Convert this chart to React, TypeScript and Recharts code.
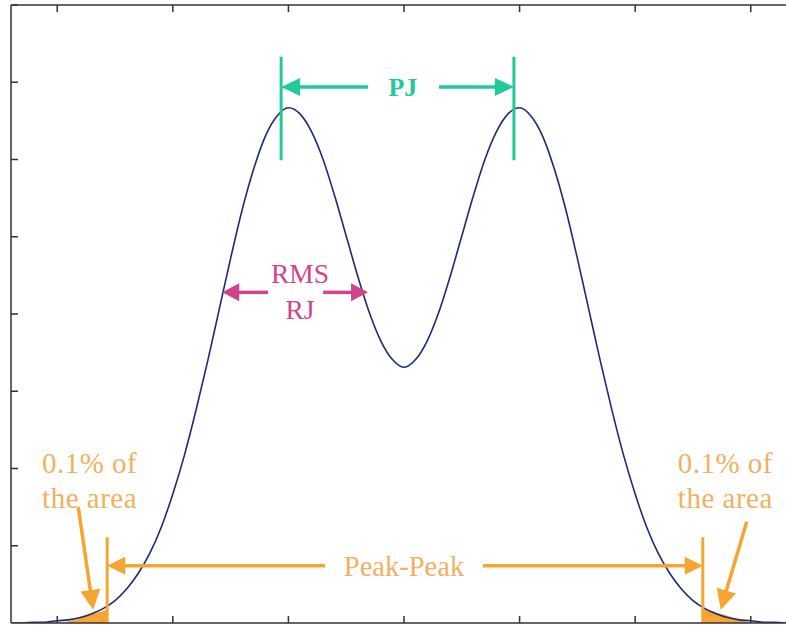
import React from 'react';
import {
  ComposedChart,
  Line,
  Area,
  XAxis,
  YAxis,
  ReferenceLine,
  ReferenceDot,
} from 'recharts';

// jitter axis positions (ticks)
const xTicks = [-3, -2, -1, 0, 1, 2, 3];
const yTicks = [0, 1, 2, 3, 4, 5, 6, 7, 8];

// bimodal jitter histogram
const xValues = [
  -3.4, -3.3, -3.2, -3.1, -3.0, -2.9, -2.8, -2.7, -2.6, -2.5, -2.4, -2.3, -2.2, -2.1, -2.0,
  -1.9, -1.8, -1.7, -1.6, -1.5, -1.4, -1.3, -1.2, -1.1, -1.0, -0.9, -0.8, -0.7, -0.6, -0.5,
  -0.4, -0.3, -0.2, -0.1, 0, 0.1, 0.2, 0.3, 0.4, 0.5, 0.6, 0.7, 0.8, 0.9, 1.0,
  1.1, 1.2, 1.3, 1.4, 1.5, 1.6, 1.7, 1.8, 1.9, 2.0, 2.1, 2.2, 2.3, 2.4, 2.5,
  2.6, 2.7, 2.8, 2.9, 3.0, 3.1, 3.2, 3.3, 3.4,
];
const densityValues = [
  0, 0, 0.01, 0.01, 0.03, 0.04, 0.07, 0.12, 0.19, 0.29, 0.44, 0.64, 0.9, 1.24, 1.67,
  2.17, 2.75, 3.38, 4.05, 4.72, 5.35, 5.88, 6.3, 6.56, 6.67, 6.59, 6.36, 6.0, 5.53, 5.01,
  4.49, 4.02, 3.65, 3.41, 3.31, 3.41, 3.65, 4.02, 4.49, 5.01, 5.53, 6.0, 6.36, 6.59, 6.67,
  6.56, 6.3, 5.88, 5.35, 4.72, 4.05, 3.38, 2.75, 2.17, 1.67, 1.24, 0.9, 0.64, 0.44, 0.29,
  0.19, 0.12, 0.07, 0.04, 0.03, 0.01, 0.01, 0, 0,
];

// shaded 0.1% tails
const leftTail = [
  { x: -2.95, y: 0 },
  { x: -2.568, y: 0.17 },
];
const rightTail = [
  { x: 2.585, y: 0.19 },
  { x: 3.0, y: 0 },
];

// annotation arrows [x1, y1, x2(tip), y2(tip)]
const pjArrows = [
  [-0.311, 6.94, -1.063, 6.94],
  [0.303, 6.94, 0.951, 6.94],
];
const pjMarkers = [-1.063, 0.951];
const rjArrows = [
  [-1.176, 4.28, -1.573, 4.28],
  [-0.7, 4.28, -0.311, 4.28],
];
const ppArrows = [
  [-0.683, 0.74, -2.568, 0.74],
  [0.683, 0.74, 2.585, 0.74],
];
const ppMarkers = [-2.568, 2.585];
const areaArrows = [
  [-2.818, 1.5, -2.689, 0.17],
  [2.965, 1.31, 2.74, 0.17],
];

const curve = xValues.map((x, i) => ({ x, y: densityValues[i] }));

const TEAL = '#22c99b';
const MAGENTA = '#d2438b';
const ORANGE = '#f7a531';
const ORANGE_TEXT = '#f1b062';
const FRAME = '#333';
const FONT = '"Liberation Serif", "DejaVu Serif", serif';

const noTick = () => <g />;

const arrowShape = (color, width, headLen, headHalf, withHead = true) => (p) => {
  const { x1, y1, x2, y2 } = p;
  const dx = x2 - x1;
  const dy = y2 - y1;
  const len = Math.hypot(dx, dy) || 1;
  const ux = dx / len;
  const uy = dy / len;
  const bx = x2 - ux * headLen;
  const by = y2 - uy * headLen;
  const pts = `${x2},${y2} ${bx - uy * headHalf},${by + ux * headHalf} ${bx + uy * headHalf},${by - ux * headHalf}`;
  return (
    <g>
      <line
        x1={x1}
        y1={y1}
        x2={withHead ? bx + ux * 2 : x2}
        y2={withHead ? by + uy * 2 : y2}
        stroke={color}
        strokeWidth={width}
      />
      {withHead && <polygon points={pts} fill={color} />}
    </g>
  );
};

const textShape = (lines, color, size, weight = 'normal', gap = 0, spacing = 0) => (p) => {
  const { cx, cy } = p;
  return (
    <text
      x={cx}
      y={cy}
      fill={color}
      fontSize={size}
      fontWeight={weight}
      fontFamily={FONT}
      letterSpacing={spacing}
      textAnchor="middle"
      dominantBaseline="central"
    >
      {lines.map((t, i) => (
        <tspan key={i} x={cx} dy={i === 0 ? 0 : gap}>
          {t}
        </tspan>
      ))}
    </text>
  );
};

const seg = (a) => [
  { x: a[0], y: a[1] },
  { x: a[2], y: a[3] },
];

export default function App() {
  return (
    <div
      style={{
        position: 'absolute',
        left: 0,
        top: 0,
        width: 786,
        height: 625,
        overflow: 'hidden',
        background: '#fff',
      }}
    >
      <ComposedChart
        width={800}
        height={625}
        data={curve}
        margin={{ top: 4, right: 3, bottom: 1, left: 10 }}
      >
        <XAxis
          dataKey="x"
          type="number"
          domain={[-3.4, 3.4]}
          ticks={xTicks}
          allowDataOverflow
          tick={noTick}
          tickSize={-7}
          height={1}
          axisLine={{ stroke: FRAME, strokeWidth: 1.5 }}
          tickLine={{ stroke: FRAME, strokeWidth: 1.5 }}
        />
        <XAxis
          xAxisId="top"
          orientation="top"
          dataKey="x"
          type="number"
          domain={[-3.4, 3.4]}
          ticks={xTicks}
          allowDataOverflow
          tick={noTick}
          tickSize={-7}
          height={1}
          axisLine={{ stroke: FRAME, strokeWidth: 1.5 }}
          tickLine={{ stroke: FRAME, strokeWidth: 1.5 }}
        />
        <YAxis
          type="number"
          domain={[0, 8]}
          ticks={yTicks}
          allowDataOverflow
          tick={noTick}
          tickSize={-7}
          width={1}
          axisLine={{ stroke: FRAME, strokeWidth: 1.5 }}
          tickLine={{ stroke: FRAME, strokeWidth: 1.5 }}
        />

        <Area
          data={leftTail}
          dataKey="y"
          type="linear"
          fill={ORANGE}
          fillOpacity={1}
          stroke="none"
          isAnimationActive={false}
        />
        <Area
          data={rightTail}
          dataKey="y"
          type="linear"
          fill={ORANGE}
          fillOpacity={1}
          stroke="none"
          isAnimationActive={false}
        />

        <Line
          dataKey="y"
          type="monotone"
          stroke="#1c2a7c"
          strokeWidth={1.6}
          dot={false}
          isAnimationActive={false}
        />

        {/* PJ */}
        {pjMarkers.map((x, i) => (
          <ReferenceLine
            key={`pjm${i}`}
            segment={[{ x, y: 7.33 }, { x, y: 5.99 }]}
            shape={arrowShape(TEAL, 3, 0, 0, false)}
          />
        ))}
        {pjArrows.map((a, i) => (
          <ReferenceLine key={`pja${i}`} segment={seg(a)} shape={arrowShape(TEAL, 3.5, 19, 9)} />
        ))}
        <ReferenceDot x={-0.01} y={6.94} r={0} shape={textShape(['PJ'], TEAL, 26, 'bold')} />

        {/* RMS RJ */}
        {rjArrows.map((a, i) => (
          <ReferenceLine key={`rja${i}`} segment={seg(a)} shape={arrowShape(MAGENTA, 3.5, 17, 9)} />
        ))}
        <ReferenceDot
          x={-0.9}
          y={4.53}
          r={0}
          shape={textShape(['RMS', 'RJ'], MAGENTA, 27.5, 'normal', 36)}
        />

        {/* Peak-Peak */}
        {ppMarkers.map((x, i) => (
          <ReferenceLine
            key={`ppm${i}`}
            segment={[{ x, y: 1.11 }, { x, y: 0 }]}
            shape={arrowShape(ORANGE, 3, 0, 0, false)}
          />
        ))}
        {ppArrows.map((a, i) => (
          <ReferenceLine key={`ppa${i}`} segment={seg(a)} shape={arrowShape(ORANGE, 3.5, 18, 9)} />
        ))}
        <ReferenceDot x={0} y={0.74} r={0} shape={textShape(['Peak-Peak'], ORANGE_TEXT, 28.5)} />

        {/* 0.1% of the area */}
        {areaArrows.map((a, i) => (
          <ReferenceLine key={`aa${i}`} segment={seg(a)} shape={arrowShape(ORANGE, 3.5, 20, 10)} />
        ))}
        <ReferenceDot
          x={-2.72}
          y={2.07}
          r={0}
          shape={textShape(['0.1% of', 'the area'], ORANGE_TEXT, 29, 'normal', 35, 0.5)}
        />
        <ReferenceDot
          x={2.78}
          y={2.07}
          r={0}
          shape={textShape(['0.1% of', 'the area'], ORANGE_TEXT, 29, 'normal', 35, 0.5)}
        />
      </ComposedChart>
    </div>
  );
}
